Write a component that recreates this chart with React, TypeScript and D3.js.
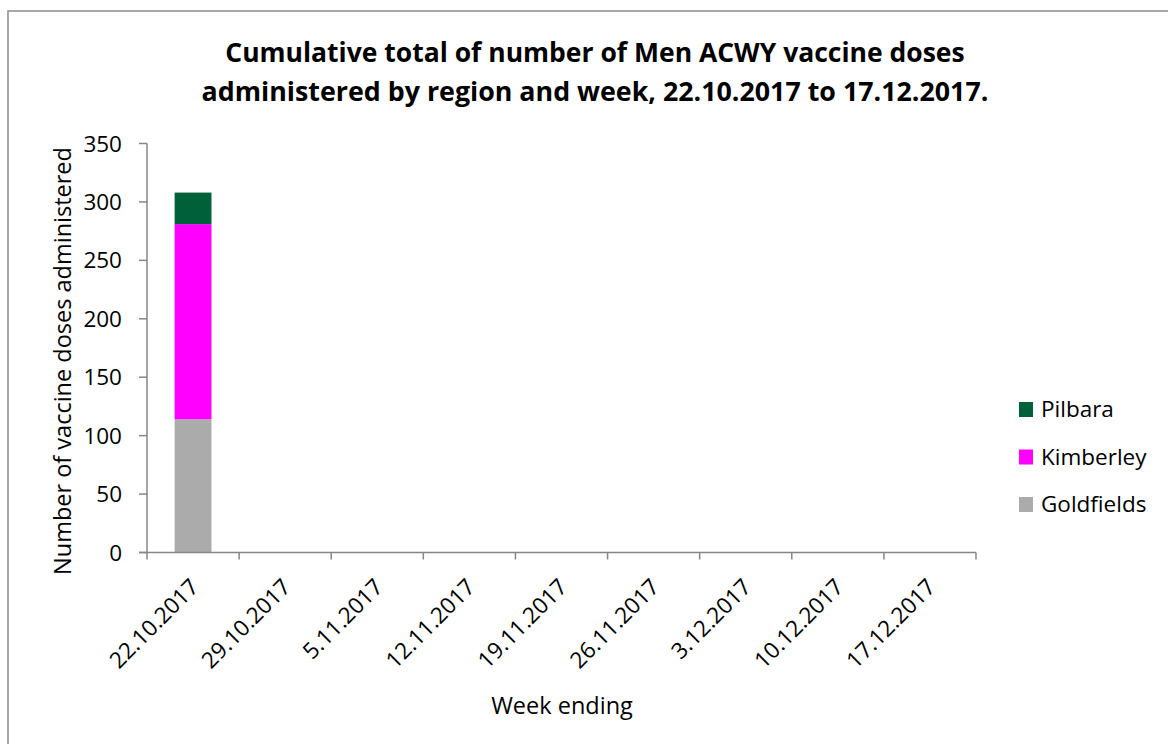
import React from "react";
import * as d3 from "d3";

const weeks = ["22.10.2017","29.10.2017","5.11.2017","12.11.2017","19.11.2017","26.11.2017","3.12.2017","10.12.2017","17.12.2017"];
const goldfields = [114, 0, 0, 0, 0, 0, 0, 0, 0];
const kimberley = [167, 0, 0, 0, 0, 0, 0, 0, 0];
const pilbara = [27, 0, 0, 0, 0, 0, 0, 0, 0];
const yTicks = [0, 50, 100, 150, 200, 250, 300, 350];
const seriesNames = ["Goldfields", "Kimberley", "Pilbara"];
const seriesColors = ["#ABABAB", "#FF00FF", "#006039"];

const W = 1168, H = 744;
const left = 147, right = 976, top = 143.5, bottom = 552.5;
const FONT = "'Open Sans', 'Liberation Sans', sans-serif";

export default function App() {
  const x = d3.scaleBand<string>().domain(weeks).range([left, right]).paddingInner(0.6).paddingOuter(0.3);
  const xb = d3.scaleBand<string>().domain(weeks).range([left, right]);
  const y = d3.scaleLinear().domain([0, 350]).range([bottom, top]);
  const rows = weeks.map((w, i) => ({ week: w, Goldfields: goldfields[i], Kimberley: kimberley[i], Pilbara: pilbara[i] }));
  const stack = d3.stack<any>().keys(seriesNames)(rows);
  const axisColor = "#868686";
  const tickPositions = weeks.map((w) => xb(w)!).concat([right]);
  const legendOrder = [2, 1, 0];

  return (
    <svg width={W} height={H} style={{ position: "absolute", left: 0, top: 0, background: "#fff" }}>
      <rect x={8} y={11} width={W} height={H} fill="#fff" stroke="#8c8c8c" strokeWidth={1.5} />
      <text x={595} y={62} textAnchor="middle" fontFamily={FONT} fontWeight="bold" fontSize={26.5} fill="#000">
        Cumulative total of number of Men ACWY vaccine doses
      </text>
      <text x={595} y={101} textAnchor="middle" fontFamily={FONT} fontWeight="bold" fontSize={26.8} fill="#000">
        administered by region and week, 22.10.2017 to 17.12.2017.
      </text>
      {stack.map((s, si) =>
        s.map((d, i) =>
          d[1] - d[0] > 0 ? (
            <rect key={`${si}-${i}`} x={x(weeks[i])} y={y(d[1])} width={x.bandwidth()} height={y(d[0]) - y(d[1])} fill={seriesColors[si]} />
          ) : null
        )
      )}
      {/* y axis */}
      <line x1={left} x2={left} y1={top} y2={bottom} stroke={axisColor} strokeWidth={1.5} />
      {yTicks.map((t) => (
        <g key={t}>
          <line x1={left - 8} x2={left} y1={y(t)} y2={y(t)} stroke={axisColor} strokeWidth={1.5} />
          <text x={122} y={y(t) + 8} textAnchor="end" fontFamily={FONT} fontSize={22.5} fill="#000">{t}</text>
        </g>
      ))}
      {/* x axis */}
      <line x1={left - 8} x2={right} y1={bottom} y2={bottom} stroke={axisColor} strokeWidth={1.5} />
      {tickPositions.map((p, i) => (
        <line key={i} x1={p} x2={p} y1={bottom} y2={bottom + 7} stroke={axisColor} strokeWidth={1.5} />
      ))}
      {weeks.map((w) => {
        const cx = xb(w)! + xb.bandwidth() / 2 + 7;
        const cy = bottom + 36;
        return (
          <text key={w} x={cx} y={cy} transform={`rotate(-45, ${cx}, ${cy})`} textAnchor="end" fontFamily={FONT} fontSize={22.5} fill="#000">{w}</text>
        );
      })}
      <text x={562} y={714} textAnchor="middle" fontFamily={FONT} fontSize={23.5} fill="#000">Week ending</text>
      <text transform={`translate(71, 361) rotate(-90)`} textAnchor="middle" fontFamily={FONT} fontSize={23.5} fill="#000">Number of vaccine doses administered</text>
      {legendOrder.map((si, k) => (
        <g key={si}>
          <rect x={1019} y={402 + k * 47.5} width={14} height={15} fill={seriesColors[si]} />
          <text x={1041} y={417 + k * 47.5} fontFamily={FONT} fontSize={22.5} fill="#000">{seriesNames[si]}</text>
        </g>
      ))}
    </svg>
  );
}
